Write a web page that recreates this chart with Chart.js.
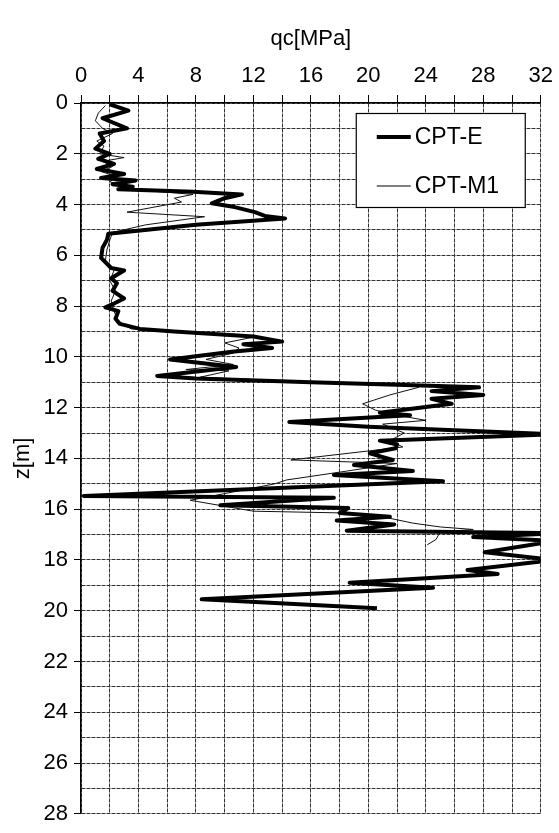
<!DOCTYPE html>
<html>
<head>
<meta charset="utf-8">
<script src="https://cdn.jsdelivr.net/npm/chart.js@4.4.1/dist/chart.umd.min.js"></script>
<style>
  html, body { margin: 0; padding: 0; background: #fff; overflow: hidden; }
  canvas { display: block; }
</style>
</head>
<body>
<canvas id="cpt" width="559" height="833"></canvas>
<script>
// CPT-E (thick) : depth z[m] and cone resistance qc[MPa]
const depthE = [0.05, 0.3, 0.6, 1.0, 1.2, 1.5, 1.8, 2.0, 2.2, 2.4, 2.6, 2.8, 2.95, 3.05, 3.2, 3.3, 3.4,
  3.5, 3.6, 3.75, 3.95, 4.1, 4.3, 4.45, 4.55, 4.8, 5.15, 5.4, 5.7, 6.1, 6.5, 6.6, 6.9, 7.1, 7.4, 7.7,
  7.9, 8.05, 8.2, 8.5, 8.7, 8.9, 9.0, 9.2, 9.4, 9.5, 9.65, 9.8, 10.1, 10.4, 10.75, 10.85, 11.0, 11.1,
  11.2, 11.35, 11.5, 11.65, 11.85, 12.2, 12.3, 12.57, 12.75, 13.05, 13.3, 13.45, 13.6, 13.8, 14.06,
  14.26, 14.5, 14.65, 14.9, 15.48, 15.55, 15.85, 15.95, 16.15, 16.3, 16.45, 16.6, 16.85, 16.95, 17.1,
  17.25, 17.7, 18.0, 18.4, 18.55, 18.9, 19.1, 19.55, 19.9];
const qcE = [2.0, 3.3, 1.5, 3.2, 1.3, 1.6, 1.0, 2.0, 1.2, 2.3, 1.1, 3.0, 1.4, 3.8, 2.2, 3.6, 2.6,
  7.8, 11.2, 10.0, 9.1, 10.7, 12.1, 12.8, 14.2, 8.0, 1.9, 1.8, 1.5, 1.4, 2.1, 3.0, 2.1, 2.5, 2.2, 3.0,
  2.3, 1.7, 2.6, 2.4, 2.7, 4.1, 6.5, 12.0, 14.0, 11.3, 13.3, 10.5, 6.2, 10.8, 5.3, 8.0, 16.0, 22.0,
  27.7, 24.4, 28.0, 24.4, 25.8, 20.8, 22.9, 14.5, 20.0, 33.0, 20.8, 22.0, 21.9, 20.1, 21.7,
  19.0, 23.1, 17.6, 25.2, 0.2, 17.6, 9.7, 18.6, 18.0, 21.5, 17.8, 21.8, 18.5, 33.0, 27.3,
  33.0, 28.1, 33.0, 26.9, 29.0, 18.7, 24.5, 8.4, 20.6];

// CPT-M1 (thin)
const depthM1 = [0.1, 0.4, 0.7, 1.0, 1.2, 1.5, 1.7, 2.0, 2.15, 2.3, 2.5, 2.7, 2.9, 3.1, 3.3, 3.45,
  3.6, 3.75, 3.9, 4.3, 4.48, 4.8, 5.1, 5.4, 5.8, 6.2, 6.6, 7.0, 7.4, 7.8, 8.2, 8.6, 8.9, 9.0, 9.2,
  9.45, 9.65, 9.85, 10.1, 10.3, 10.5, 10.55, 10.8, 11.0, 11.1, 11.2, 11.5, 11.85, 12.1, 12.3, 12.5,
  12.65, 13.0, 13.3, 13.55, 14.06, 14.2, 14.5, 14.85, 15.0, 15.65, 16.08, 16.15, 16.3, 16.55, 16.7,
  16.8, 16.9, 17.2, 17.4];
const qcM1 = [1.7, 1.2, 1.0, 1.5, 2.2, 1.1, 1.6, 1.3, 3.0, 1.5, 2.2, 1.4, 2.5, 2.0, 3.0, 4.5,
  7.8, 6.5, 7.0, 3.2, 8.6, 4.5, 2.2, 2.0, 1.8, 1.7, 2.3, 2.0, 2.4, 2.1, 2.3, 2.6, 3.5, 7.0, 12.2,
  10.0, 11.0, 10.6, 8.7, 10.6, 7.3, 10.3, 8.3, 16.0, 23.3, 23.5, 21.5, 19.6, 20.5, 22.0, 24.0,
  21.0, 22.5, 21.5, 22.4, 14.6, 22.0, 18.5, 14.3, 13.5, 7.6, 12.0, 18.3, 21.0, 23.1, 25.0,
  27.3, 25.0, 24.7, 24.1];

const seriesNames = ['CPT-E', 'CPT-M1'];

const FONT = '"Liberation Sans", Arial, sans-serif';
const gridColor = '#333';

const toPoints = (zs, qs) => zs.map((z, i) => ({ x: qs[i], y: z }));

// legend box in the upper right of the plot
const legendBox = {
  id: 'legendBox',
  afterDraw(chart) {
    const ctx = chart.ctx;
    const area = chart.chartArea;
    const x0 = area.right - 185, y0 = area.top + 10;
    ctx.save();
    ctx.setLineDash([]);
    ctx.fillStyle = '#fff';
    ctx.fillRect(x0, y0, 169, 94);
    ctx.strokeStyle = '#000';
    ctx.lineWidth = 1.2;
    ctx.strokeRect(x0 + 0.5, y0 + 0.5, 169, 94);
    chart.data.datasets.forEach((ds, i) => {
      const y = y0 + 24 + i * 49;
      ctx.beginPath();
      ctx.strokeStyle = '#000';
      ctx.lineWidth = ds.borderWidth;
      ctx.moveTo(x0 + 21, y);
      ctx.lineTo(x0 + 55, y);
      ctx.stroke();
      ctx.fillStyle = '#000';
      ctx.font = '23px ' + FONT;
      ctx.textBaseline = 'middle';
      ctx.fillText(ds.label, x0 + 59, y + 1);
    });
    ctx.restore();
  }
};

new Chart(document.getElementById('cpt'), {
  type: 'scatter',
  data: {
    datasets: [
      {
        label: seriesNames[0],
        data: toPoints(depthE, qcE),
        showLine: true,
        borderColor: '#000',
        borderWidth: 4,
        borderJoinStyle: 'round',
        pointRadius: 0,
        tension: 0,
        clip: 0
      },
      {
        label: seriesNames[1],
        data: toPoints(depthM1, qcM1),
        showLine: true,
        borderColor: '#111',
        borderWidth: 1,
        pointRadius: 0,
        tension: 0,
        clip: 0
      }
    ]
  },
  options: {
    responsive: false,
    animation: false,
    devicePixelRatio: 1,
    layout: { padding: { left: 0, right: 16, top: 0, bottom: 11 } },
    plugins: {
      legend: { display: false },
      tooltip: { enabled: false }
    },
    scales: {
      x: {
        type: 'linear',
        position: 'top',
        min: 0,
        max: 32,
        afterFit: s => { s.height = 103; },
        title: {
          display: true,
          text: 'qc[MPa]',
          color: '#000',
          font: { family: FONT, size: 22 },
          padding: { top: 26, bottom: 0 }
        },
        ticks: {
          stepSize: 2,
          autoSkip: false,
          maxRotation: 0,
          color: '#000',
          padding: 6,
          font: { family: FONT, size: 22 },
          callback: v => (v % 4 === 0 ? v : '')
        },
        grid: {
          color: gridColor,
          lineWidth: 1,
          tickLength: 8,
          tickColor: '#000'
        },
        border: { color: '#000', width: 1.5, dash: [4, 1] }
      },
      y: {
        type: 'linear',
        reverse: true,
        min: 0,
        max: 28,
        afterFit: s => { s.width = 81; },
        title: {
          display: true,
          text: 'z[m]',
          color: '#000',
          font: { family: FONT, size: 22 },
          padding: { top: 10, bottom: 4 }
        },
        ticks: {
          stepSize: 1,
          autoSkip: false,
          color: '#000',
          padding: 6,
          font: { family: FONT, size: 22 },
          callback: v => (v % 2 === 0 ? v : '')
        },
        grid: {
          color: gridColor,
          lineWidth: 1,
          tickLength: 7,
          tickColor: ctx => (ctx.tick && ctx.tick.value % 2 === 0 ? '#000' : 'rgba(0,0,0,0)')
        },
        border: { color: '#000', width: 1.5, dash: [4, 1] }
      }
    }
  },
  plugins: [legendBox]
});
</script>
</body>
</html>
